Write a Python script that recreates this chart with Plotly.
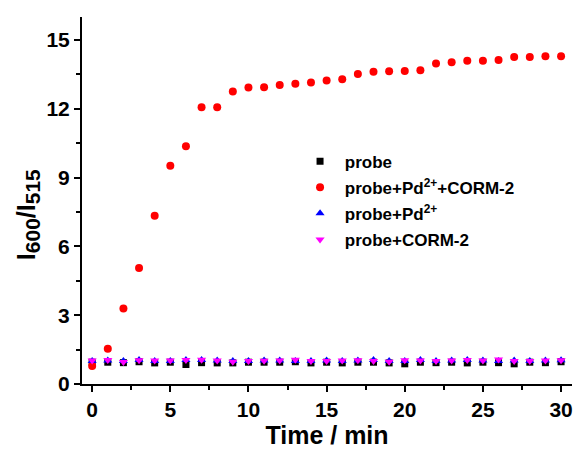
import plotly.graph_objects as go

time_min = list(range(0, 31))

probe = [0.95, 0.95, 0.93, 0.97, 0.92, 0.95, 0.85, 0.93, 0.92, 0.92, 0.95, 0.95, 0.95, 0.97, 0.92, 0.95,
         0.92, 0.95, 0.95, 0.92, 0.88, 0.95, 0.93, 0.95, 0.92, 0.95, 0.93, 0.88, 0.95, 0.93, 0.97]
probe_pd_corm = [0.78, 1.54, 3.29, 5.06, 7.33, 9.51, 10.36, 12.07, 12.07, 12.75, 12.93, 12.94, 13.03, 13.09,
                 13.14, 13.23, 13.29, 13.52, 13.61, 13.64, 13.65, 13.68, 13.97, 14.03, 14.09, 14.09, 14.12,
                 14.26, 14.26, 14.29, 14.29]
probe_pd = [1.0, 1.02, 1.0, 1.05, 1.0, 1.0, 1.05, 1.05, 1.02, 1.0, 1.0, 1.02, 1.02, 1.0, 1.0, 1.02,
            1.0, 1.02, 1.05, 1.0, 1.0, 1.05, 1.0, 1.02, 1.05, 1.02, 1.0, 1.02, 1.0, 1.02, 1.03]
probe_corm = [1.02, 1.05, 0.96, 1.03, 1.02, 1.02, 1.05, 1.06, 1.02, 0.97, 1.0, 1.01, 1.02, 1.06, 1.0, 1.0,
              1.02, 1.04, 1.0, 0.97, 1.03, 1.02, 1.0, 1.02, 1.05, 1.02, 1.07, 1.0, 1.0, 1.02, 1.03]

series_names = ["probe", "probe+Pd<sup>2+</sup>+CORM-2", "probe+Pd<sup>2+</sup>", "probe+CORM-2"]
x_ticks = [0, 5, 10, 15, 20, 25, 30]
y_ticks = [0, 3, 6, 9, 12, 15]
x_title = "Time / min"
y_title = ("I<sub><span style='font-size:21px'>600</span></sub>/"
           "I<sub><span style='font-size:21px'>515</span></sub>")

FONT = "Liberation Sans, Arial, sans-serif"

fig = go.Figure()
specs = [
    (probe, series_names[0], "square", "black", 7),
    (probe_pd_corm, series_names[1], "circle", "#ff0000", 8),
    (probe_pd, series_names[2], "triangle-up", "#0000ff", 8),
    (probe_corm, series_names[3], "triangle-down", "#ff00ff", 8),
]
for i, (vals, name, sym, col, sz) in enumerate(specs):
    fig.add_trace(go.Scatter(
        x=time_min, y=vals, mode="markers", name=" " + name, legendgroup=str(i),
        marker=dict(symbol=sym, color=col, size=sz, line=dict(width=0)),
    ))

fig.update_layout(
    width=579, height=450,
    margin=dict(l=82, r=7, t=17, b=66, autoexpand=False),
    paper_bgcolor="white", plot_bgcolor="white",
    font=dict(family=FONT, color="black", size=18, weight="bold"),
    legend=dict(x=0.445, y=0.655, xanchor="left", yanchor="top",
                font=dict(size=17, family=FONT, weight="bold"),
                bgcolor="rgba(0,0,0,0)", traceorder="grouped", tracegroupgap=1,
                itemwidth=30),
    showlegend=True,
)
fig.add_annotation(
    text=y_title, textangle=-90, xref="paper", yref="paper", x=0, y=0.46,
    xanchor="center", yanchor="middle", xshift=-54, showarrow=False,
    font=dict(size=25, family=FONT, weight="bold", color="black"),
)
fig.update_xaxes(
    range=[-0.65, 30.7], tickvals=x_ticks, showgrid=False, zeroline=False, automargin=False,
    showline=True, linecolor="black", linewidth=2,
    ticks="outside", ticklen=6, tickwidth=2, tickcolor="black",
    tickfont=dict(size=21, family=FONT, weight="bold"),
    minor=dict(tickvals=[2.5, 7.5, 12.5, 17.5, 22.5, 27.5], ticks="outside", ticklen=4, tickwidth=2, tickcolor="black"),
    title=dict(text=x_title, font=dict(size=25, family=FONT, weight="bold"), standoff=5),
)
fig.update_yaxes(
    range=[0, 16], tickvals=y_ticks, showgrid=False, zeroline=False, automargin=False,
    showline=True, linecolor="black", linewidth=2,
    ticks="outside", ticklen=6, tickwidth=2, tickcolor="black",
    tickfont=dict(size=21, family=FONT, weight="bold"),
    minor=dict(tickvals=[1.5, 4.5, 7.5, 10.5, 13.5], ticks="outside", ticklen=4, tickwidth=2, tickcolor="black"),
)

fig.write_html("out.html", config={"displayModeBar": False},
               post_script="document.body.style.margin='0';")
